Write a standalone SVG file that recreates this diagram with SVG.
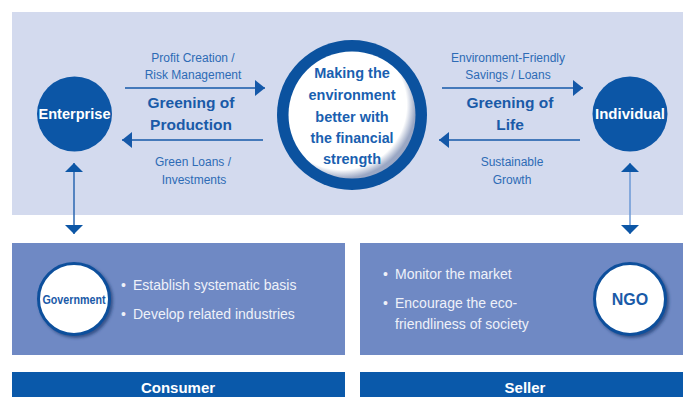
<svg xmlns="http://www.w3.org/2000/svg" width="683" height="397" viewBox="0 0 683 397">
<defs>
<style>
text{font-family:"Liberation Sans",Arial,sans-serif}
.lbl{font-size:12px;fill:#2d6bb5;text-anchor:middle}
.hd{font-size:15.5px;font-weight:bold;fill:#1a5aa8;text-anchor:middle}
.ctr{font-size:14.5px;font-weight:bold;fill:#1a5fb0;text-anchor:middle}
.wn{font-size:14.5px;font-weight:bold;fill:#ffffff;text-anchor:middle}
.bul{font-size:14px;fill:#eef1f9}
.bar{font-size:15px;font-weight:bold;fill:#ffffff;text-anchor:middle}
.conn{stroke:#1458a8;stroke-width:1.5;fill:none}
</style>
<marker id="ah" viewBox="0 0 10 16" refX="10" refY="8" markerWidth="10" markerHeight="16" orient="auto" markerUnits="userSpaceOnUse"><path d="M0,0 L10,8 L0,16 Z" fill="#1458a8"/></marker>
<marker id="av" viewBox="0 0 9 18" refX="9" refY="9" markerWidth="9" markerHeight="18" orient="auto-start-reverse" markerUnits="userSpaceOnUse"><path d="M0,0 L9,9 L0,18 Z" fill="#0c56a6"/></marker>
<radialGradient id="wg" cx="0.42" cy="0.42" r="0.58">
<stop offset="0.88" stop-color="#ffffff"/>
<stop offset="1" stop-color="#9aa7c4"/>
</radialGradient>
<filter id="sh" x="-20%" y="-20%" width="150%" height="150%">
<feGaussianBlur in="SourceAlpha" stdDeviation="1.5"/>
<feOffset dx="2" dy="2" result="b"/>
<feFlood flood-color="#1b3a70" flood-opacity="0.7"/>
<feComposite in2="b" operator="in"/>
<feMerge><feMergeNode/><feMergeNode in="SourceGraphic"/></feMerge>
</filter>
</defs>
<rect width="683" height="397" fill="#ffffff"/>
<rect id="top-panel" x="12" y="12" width="671" height="203" fill="#d3daee"/>
<rect id="panel-left" x="12" y="243" width="333" height="112" fill="#6f89c4"/>
<rect id="panel-right" x="360" y="243" width="323" height="112" fill="#6f89c4"/>

<g id="connectors">
<line class="conn" x1="125" y1="88" x2="265" y2="88" marker-end="url(#ah)"/>
<line class="conn" x1="263" y1="140" x2="122" y2="140" marker-end="url(#ah)"/>
<line class="conn" x1="442" y1="88" x2="583" y2="88" marker-end="url(#ah)"/>
<line class="conn" x1="580" y1="140" x2="439" y2="140" marker-end="url(#ah)"/>
<line x1="74" y1="163" x2="74" y2="234" stroke="#2a66b0" stroke-width="1.5" marker-start="url(#av)" marker-end="url(#av)"/>
<line x1="630" y1="163" x2="630" y2="234" stroke="#6b98d6" stroke-width="1.5" marker-start="url(#av)" marker-end="url(#av)"/>
</g>

<g id="labels-left">
<text class="lbl" x="193" y="62">Profit Creation /</text>
<text class="lbl" x="193" y="79">Risk Management</text>
<text class="hd" x="191" y="108">Greening of</text>
<text class="hd" x="191" y="130">Production</text>
<text class="lbl" x="193" y="166">Green Loans /</text>
<text class="lbl" x="194" y="184">Investments</text>
</g>
<g id="labels-right">
<text class="lbl" x="508" y="62">Environment-Friendly</text>
<text class="lbl" x="508" y="79">Savings / Loans</text>
<text class="hd" x="510" y="108">Greening of</text>
<text class="hd" x="510" y="130">Life</text>
<text class="lbl" x="512" y="166">Sustainable</text>
<text class="lbl" x="512" y="184">Growth</text>
</g>

<g id="enterprise">
<circle cx="74.5" cy="114" r="37.5" fill="#0c56a6"/>
<text class="wn" x="74.5" y="119" textLength="72" lengthAdjust="spacingAndGlyphs">Enterprise</text>
</g>
<g id="individual">
<circle cx="630" cy="114" r="37.5" fill="#0c56a6"/>
<text class="wn" x="630" y="119" textLength="70" lengthAdjust="spacingAndGlyphs">Individual</text>
</g>

<g id="center">
<circle cx="352" cy="115" r="75" fill="#0b529f"/>
<circle cx="352" cy="115" r="63.5" fill="url(#wg)"/>
<text class="ctr" x="352" y="78">Making the</text>
<text class="ctr" x="352" y="100">environment</text>
<text class="ctr" x="352" y="122">better with</text>
<text class="ctr" x="352" y="143" textLength="83" lengthAdjust="spacingAndGlyphs">the financial</text>
<text class="ctr" x="352" y="164">strength</text>
</g>

<g id="government">
<circle cx="74" cy="299" r="35.5" fill="#ffffff" stroke="#0b4f9c" stroke-width="3" filter="url(#sh)"/>
<text x="74" y="304" font-size="12.5" font-weight="bold" fill="#1a5aa8" text-anchor="middle" textLength="63" lengthAdjust="spacingAndGlyphs">Government</text>
</g>
<g id="gov-bullets">
<text class="bul" x="121" y="290">•</text>
<text class="bul" x="133" y="290">Establish systematic basis</text>
<text class="bul" x="121" y="319">•</text>
<text class="bul" x="133" y="319">Develop related industries</text>
</g>

<g id="ngo">
<circle cx="630" cy="299" r="35.5" fill="#ffffff" stroke="#0b4f9c" stroke-width="3" filter="url(#sh)"/>
<text x="630" y="305" font-size="16" font-weight="bold" fill="#1a5aa8" text-anchor="middle">NGO</text>
</g>
<g id="ngo-bullets">
<text class="bul" x="383" y="279">•</text>
<text class="bul" x="395" y="279">Monitor the market</text>
<text class="bul" x="383" y="308">•</text>
<text class="bul" x="395" y="308">Encourage the eco-</text>
<text class="bul" x="395" y="329">friendliness of society</text>
</g>

<g id="consumer">
<rect x="12" y="372" width="333" height="25" fill="#0a59aa"/>
<text class="bar" x="178" y="393">Consumer</text>
</g>
<g id="seller">
<rect x="360" y="372" width="323" height="25" fill="#0a59aa"/>
<text class="bar" x="525" y="393">Seller</text>
</g>
</svg>
